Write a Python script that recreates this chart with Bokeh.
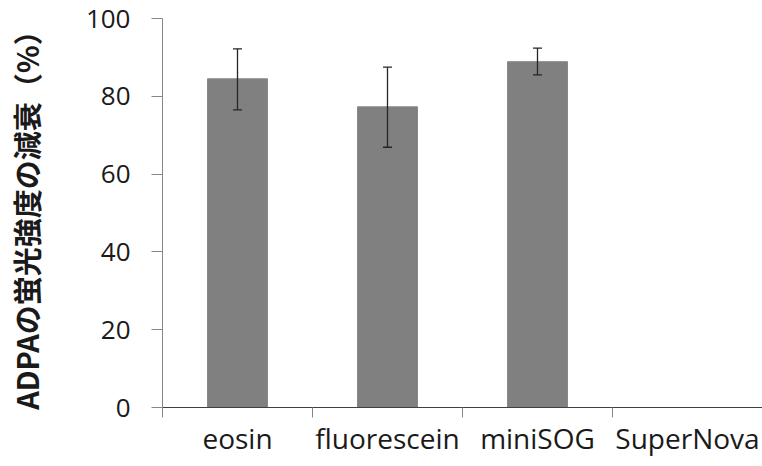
import numpy as np
from bokeh.plotting import figure
from bokeh.models import Range1d, FixedTicker, ColumnDataSource, Whisker, TeeHead
from bokeh.embed import file_html
from bokeh.resources import INLINE

categories = ["eosin", "fluorescein", "miniSOG", "SuperNova"]
values = [84.5, 77.3, 88.9, -0.4]
err_lower = [76.5, 66.9, 85.5, -0.4]
err_upper = [92.2, 87.5, 92.4, -0.4]
y_ticks = [0, 20, 40, 60, 80, 100]

xs = np.arange(len(categories)) + 0.5
src = ColumnDataSource(dict(x=xs, top=values, lower=err_lower, upper=err_upper))

p = figure(width=762, height=466, output_backend="svg", toolbar_location=None,
           x_range=Range1d(0, len(categories)), y_range=Range1d(0, 100),
           min_border_left=162, min_border_right=0, min_border_top=18, min_border_bottom=59)
p.outline_line_color = None
p.xgrid.visible = False
p.ygrid.visible = False

p.vbar(x="x", top="top", width=0.4, source=src, fill_color="#808080", line_color="#888888", line_width=1)
w = Whisker(base="x", lower="lower", upper="upper", source=src, line_color="#262626", line_width=1.3,
            upper_head=TeeHead(size=9, line_color="#262626", line_width=1.3),
            lower_head=TeeHead(size=9, line_color="#262626", line_width=1.3))
w.level = "overlay"
p.add_layout(w)

font = "Open Sans"
# x axis
p.xaxis.ticker = FixedTicker(ticks=list(xs), minor_ticks=list(range(len(categories) + 1)))
p.xaxis.major_label_overrides = {float(x): c for x, c in zip(xs, categories)}
p.xaxis.major_tick_out = 0
p.xaxis.major_tick_in = 0
p.xaxis.minor_tick_out = 10
p.xaxis.minor_tick_in = 0
p.xaxis.minor_tick_line_color = "#868686"
p.xaxis.axis_line_color = "#404040"
p.xaxis.major_label_text_font = font
p.xaxis.major_label_text_font_size = "28px"
p.xaxis.major_label_text_color = "#1a1a1a"
p.xaxis.major_label_standoff = 1

# y axis
p.yaxis.ticker = FixedTicker(ticks=y_ticks)
p.yaxis.major_tick_out = 11
p.yaxis.major_tick_in = 0
p.yaxis.minor_tick_line_color = None
p.yaxis.axis_line_color = "#868686"
p.yaxis.major_tick_line_color = "#868686"
p.yaxis.major_label_text_font = font
p.yaxis.major_label_text_font_size = "26px"
p.yaxis.major_label_text_color = "#1a1a1a"
p.yaxis.major_label_standoff = 21
p.yaxis.axis_label = "ADPAの蛍光強度の減衰（%）"
p.yaxis.axis_label_text_font = "Noto Sans CJK JP"
p.yaxis.axis_label_text_font_style = "bold"
p.yaxis.axis_label_text_font_size = "29px"
p.yaxis.axis_label_text_color = "#1a1a1a"
p.yaxis.axis_label_standoff = 36

open("out.html", "w").write(file_html(p, INLINE))
